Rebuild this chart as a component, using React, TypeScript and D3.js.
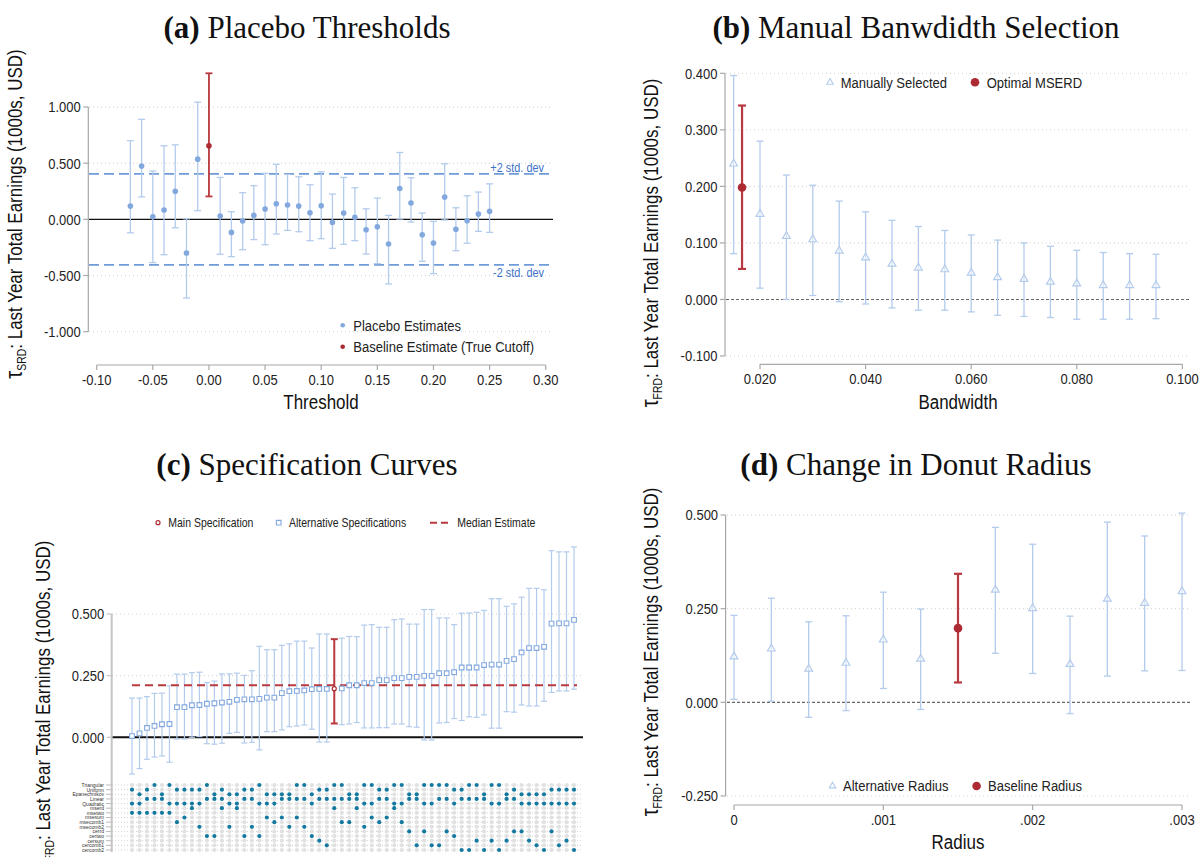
import React from 'react';
import * as d3 from 'd3';

// ---------------- Fonts & colours ----------------
const SANS = '"Liberation Sans",Arial,sans-serif';
const SERIF = '"Liberation Serif","Times New Roman",serif';
const NARROW_X = 0.84; // horizontal condensing to mimic Arial Narrow
const CI_BLUE = '#b3cbec';
const DOT_BLUE = '#82a8dd';
const RED = '#ad2a33';
const RED_CI = '#b8393f';
const TEAL = '#15799f';
const AXIS_GRAY = '#a8a8a8';
const GRID = '#cfcfcf';

// ---------------- Panel (a) Placebo thresholds ----------------
const placeboThreshold = [-0.07, -0.06, -0.05, -0.04, -0.03, -0.02, -0.01, 0.01, 0.02, 0.03, 0.04, 0.05, 0.06, 0.07, 0.08, 0.09, 0.10, 0.11, 0.12, 0.13, 0.14, 0.15, 0.16, 0.17, 0.18, 0.19, 0.20, 0.21, 0.22, 0.23, 0.24, 0.25];
const placeboEstimate = [0.118, 0.474, 0.023, 0.083, 0.249, -0.30, 0.536, 0.029, -0.116, -0.015, 0.035, 0.092, 0.139, 0.128, 0.118, 0.059, 0.121, -0.027, 0.056, 0.018, -0.092, -0.066, -0.22, 0.275, 0.145, -0.137, -0.211, 0.198, -0.089, -0.012, 0.047, 0.071];
const placeboUpper = [0.70, 0.89, 0.43, 0.655, 0.663, 0.005, 1.043, 0.373, 0.068, 0.237, 0.30, 0.41, 0.49, 0.40, 0.379, 0.308, 0.423, 0.225, 0.373, 0.281, 0.094, 0.189, 0.035, 0.595, 0.37, 0.056, -0.018, 0.494, 0.103, 0.21, 0.243, 0.316];
const placeboLower = [-0.12, 0.20, -0.385, -0.315, -0.075, -0.70, 0.077, -0.311, -0.332, -0.27, -0.18, -0.226, -0.13, -0.098, -0.11, -0.19, -0.172, -0.258, -0.222, -0.19, -0.308, -0.394, -0.575, 0.003, -0.024, -0.373, -0.483, -0.006, -0.279, -0.213, -0.107, -0.116];
const trueCutoff = [0];
const trueEstimate = [0.654];
const trueUpper = [1.30];
const trueLower = [0.204];
const stdDevBands = [0.405, -0.405];
const stdDevLabels = ['+2 std. dev', '-2 std. dev'];
const aXTicks = [-0.1, -0.05, 0, 0.05, 0.1, 0.15, 0.2, 0.25, 0.3];
const aYTicks = [1, 0.5, 0, -0.5, -1];

// ---------------- Panel (b) Bandwidth ----------------
const bandwidth = [0.015, 0.020, 0.025, 0.030, 0.035, 0.040, 0.045, 0.050, 0.055, 0.060, 0.065, 0.070, 0.075, 0.080, 0.085, 0.090, 0.095];
const bwEstimate = [0.240, 0.151, 0.112, 0.106, 0.086, 0.074, 0.063, 0.056, 0.053, 0.047, 0.039, 0.036, 0.031, 0.028, 0.025, 0.025, 0.025];
const bwUpper = [0.396, 0.280, 0.220, 0.202, 0.174, 0.155, 0.140, 0.129, 0.122, 0.114, 0.105, 0.100, 0.094, 0.087, 0.083, 0.081, 0.080];
const bwLower = [0.081, 0.020, 0.000, 0.007, -0.004, -0.008, -0.015, -0.019, -0.019, -0.022, -0.028, -0.030, -0.032, -0.035, -0.035, -0.035, -0.034];
const optimalBw = [0.0166];
const optimalEstimate = [0.198];
const optimalUpper = [0.343];
const optimalLower = [0.054];
const bXTicks = [0.02, 0.04, 0.06, 0.08, 0.1];
const bYTicks = [0.4, 0.3, 0.2, 0.1, 0, -0.1];

// ---------------- Panel (c) Specification curve ----------------
const specEstimate = [0.005, 0.016, 0.038, 0.046, 0.053, 0.054, 0.122, 0.122, 0.130, 0.131, 0.136, 0.138, 0.141, 0.144, 0.152, 0.154, 0.154, 0.156, 0.161, 0.161, 0.179, 0.187, 0.188, 0.190, 0.195, 0.196, 0.196, 0.197, 0.198, 0.211, 0.211, 0.220, 0.220, 0.232, 0.232, 0.240, 0.240, 0.245, 0.245, 0.249, 0.249, 0.260, 0.260, 0.264, 0.283, 0.283, 0.283, 0.293, 0.295, 0.295, 0.310, 0.317, 0.344, 0.362, 0.362, 0.367, 0.461, 0.462, 0.462, 0.476];
const specUpper = [0.159, 0.159, 0.165, 0.178, 0.179, 0.209, 0.256, 0.256, 0.262, 0.264, 0.222, 0.228, 0.257, 0.257, 0.260, 0.251, 0.270, 0.369, 0.355, 0.355, 0.373, 0.379, 0.390, 0.390, 0.362, 0.419, 0.419, 0.398, 0.402, 0.409, 0.408, 0.455, 0.457, 0.446, 0.446, 0.477, 0.480, 0.459, 0.459, 0.518, 0.518, 0.484, 0.484, 0.457, 0.503, 0.504, 0.507, 0.515, 0.562, 0.562, 0.531, 0.541, 0.568, 0.604, 0.604, 0.598, 0.757, 0.752, 0.752, 0.772];
const specLower = [-0.149, -0.127, -0.089, -0.080, -0.076, -0.101, -0.007, -0.007, 0.000, 0.003, -0.026, -0.028, -0.024, 0.016, 0.020, -0.023, -0.020, -0.051, 0.023, 0.023, 0.030, 0.043, 0.046, 0.050, 0.033, -0.019, -0.019, 0.056, 0.051, 0.054, 0.060, 0.038, 0.038, 0.039, 0.039, 0.054, 0.054, 0.043, 0.041, -0.011, -0.011, 0.058, 0.060, 0.076, 0.068, 0.083, 0.081, 0.091, 0.037, 0.037, 0.104, 0.102, 0.131, 0.127, 0.127, 0.146, 0.182, 0.188, 0.188, 0.195];
const specKernel = ['Uniform', 'Epanechnikov', 'Uniform', 'Triangular', 'Epanechnikov', 'Triangular', 'Uniform', 'Uniform', 'Uniform', 'Uniform', 'Triangular', 'Epanechnikov', 'Uniform', 'Epanechnikov', 'Epanechnikov', 'Uniform', 'Uniform', 'Triangular', 'Epanechnikov', 'Epanechnikov', 'Epanechnikov', 'Epanechnikov', 'Triangular', 'Triangular', 'Epanechnikov', 'Uniform', 'Uniform', 'Triangular', 'Triangular', 'Epanechnikov', 'Epanechnikov', 'Triangular', 'Triangular', 'Uniform', 'Uniform', 'Triangular', 'Triangular', 'Epanechnikov', 'Epanechnikov', 'Triangular', 'Triangular', 'Triangular', 'Triangular', 'Uniform', 'Uniform', 'Triangular', 'Triangular', 'Epanechnikov', 'Triangular', 'Triangular', 'Epanechnikov', 'Uniform', 'Epanechnikov', 'Epanechnikov', 'Epanechnikov', 'Epanechnikov', 'Uniform', 'Uniform', 'Uniform', 'Uniform'];
const specPoly = ['Quadratic', 'Quadratic', 'Linear', 'Linear', 'Linear', 'Quadratic', 'Quadratic', 'Quadratic', 'Quadratic', 'Quadratic', 'Linear', 'Linear', 'Linear', 'Quadratic', 'Quadratic', 'Linear', 'Linear', 'Quadratic', 'Quadratic', 'Quadratic', 'Linear', 'Linear', 'Linear', 'Linear', 'Quadratic', 'Linear', 'Linear', 'Linear', 'Linear', 'Linear', 'Linear', 'Quadratic', 'Quadratic', 'Linear', 'Linear', 'Quadratic', 'Quadratic', 'Linear', 'Linear', 'Quadratic', 'Quadratic', 'Linear', 'Linear', 'Quadratic', 'Linear', 'Linear', 'Linear', 'Linear', 'Quadratic', 'Quadratic', 'Linear', 'Linear', 'Quadratic', 'Quadratic', 'Quadratic', 'Quadratic', 'Quadratic', 'Quadratic', 'Quadratic', 'Quadratic'];
const specSelector = ['msetwo', 'msetwo', 'msetwo', 'msetwo', 'msetwo', 'msetwo', 'msecomb1', 'msesum', 'mserd', 'msecomb2', 'certwo', 'certwo', 'mserd', 'msecomb2', 'mserd', 'certwo', 'msecomb2', 'certwo', 'msesum', 'msecomb1', 'msesum', 'msecomb2', 'msesum', 'msecomb2', 'certwo', 'cersum', 'cercomb1', 'mserd', 'msecomb1', 'msecomb1', 'mserd', 'msecomb2', 'msesum', 'msecomb1', 'msesum', 'mserd', 'msecomb1', 'cerrd', 'cercomb1', 'cerrd', 'cercomb1', 'cercomb1', 'cerrd', 'certwo', 'cercomb2', 'cercomb2', 'cersum', 'cercomb2', 'cersum', 'cercomb2', 'cersum', 'cerrd', 'cerrd', 'cersum', 'cercomb1', 'cercomb2', 'cerrd', 'cercomb1', 'cersum', 'cercomb2'];
const mainSpecIndex = [27];
const medianEstimate = [0.211];
const specRows = ['Triangular', 'Uniform', 'Epanechnikov', 'Linear', 'Quadratic', 'mserd', 'msetwo', 'msesum', 'msecomb1', 'msecomb2', 'cerrd', 'certwo', 'cersum', 'cercomb1', 'cercomb2'];
const cYTicks = [0.5, 0.25, 0];

// ---------------- Panel (d) Donut radius ----------------
const radius = [0, 0.00025, 0.0005, 0.00075, 0.001, 0.00125, 0.00175, 0.002, 0.00225, 0.0025, 0.00275, 0.003];
const radiusEstimate = [0.122, 0.143, 0.089, 0.105, 0.167, 0.116, 0.300, 0.251, 0.102, 0.276, 0.265, 0.296];
const radiusUpper = [0.232, 0.278, 0.215, 0.231, 0.294, 0.249, 0.467, 0.422, 0.230, 0.481, 0.444, 0.505];
const radiusLower = [0.008, 0.003, -0.040, -0.022, 0.037, -0.019, 0.131, 0.077, -0.030, 0.070, 0.084, 0.085];
const baselineRadius = [0.0015];
const baselineEstimate = [0.198];
const baselineUpper = [0.343];
const baselineLower = [0.053];
const dXTicks = [0, 0.001, 0.002, 0.003];
const dYTicks = [0.5, 0.25, 0, -0.25];

// ---------------- helpers ----------------
const fmt = (spec: string) => (v: number) => d3.format(spec)(v).replace('\u2212', '-');
const radiusFmt = (v: number) => (v === 0 ? '0' : d3.format('.3f')(v).replace(/^0/, ''));

type Scale = d3.ScaleLinear<number, number>;

function T({ x, y, size, anchor = 'start', fill = '#222', sx = NARROW_X, dy = '0.35em', children }: { x: number; y: number; size: number; anchor?: string; fill?: string; sx?: number; dy?: string; children: React.ReactNode }) {
  return (
    <text transform={`translate(${x},${y}) scale(${sx},1)`} dy={dy} textAnchor={anchor as any} fontSize={size} fontFamily={SANS} fill={fill}>
      {children}
    </text>
  );
}

function YAxis({ x, y, ticks, format, color = AXIS_GRAY, width = 1.2, extendTo }: { x: number; y: Scale; ticks: number[]; format: (v: number) => string; color?: string; width?: number; extendTo?: number }) {
  const ys = ticks.map((t) => y(t));
  const top = Math.min(...ys);
  const bottom = extendTo ?? Math.max(...ys);
  return (
    <g>
      <line x1={x} x2={x} y1={top} y2={bottom} stroke={color} strokeWidth={width} />
      {ticks.map((t) => (
        <g key={t}>
          <line x1={x - 5} x2={x} y1={y(t)} y2={y(t)} stroke={color} strokeWidth={1.2} />
          <T x={x - 7.5} y={y(t)} size={15.5} anchor="end">{format(t)}</T>
        </g>
      ))}
    </g>
  );
}

function XAxis({ y0, x, ticks, format }: { y0: number; x: Scale; ticks: number[]; format: (v: number) => string }) {
  const xs = ticks.map((t) => x(t));
  return (
    <g>
      <line x1={Math.min(...xs)} x2={Math.max(...xs)} y1={y0} y2={y0} stroke={AXIS_GRAY} strokeWidth={1.2} />
      {ticks.map((t) => (
        <g key={t}>
          <line x1={x(t)} x2={x(t)} y1={y0} y2={y0 + 5} stroke={AXIS_GRAY} strokeWidth={1.2} />
          <T x={x(t)} y={y0 + 19.5} size={15.5} anchor="middle" dy="0">{format(t)}</T>
        </g>
      ))}
    </g>
  );
}

function ErrorBar({ x, y1, y2, color, width = 1.3, cap = 3.5 }: { x: number; y1: number; y2: number; color: string; width?: number; cap?: number }) {
  return (
    <g>
      <line x1={x} x2={x} y1={y1} y2={y2} stroke={color} strokeWidth={width} />
      <line x1={x - cap} x2={x + cap} y1={y1} y2={y1} stroke={color} strokeWidth={width} />
      <line x1={x - cap} x2={x + cap} y1={y2} y2={y2} stroke={color} strokeWidth={width} />
    </g>
  );
}

function Title({ x, y, tag, text }: { x: number; y: number; tag: string; text: string }) {
  return (
    <text x={x} y={y} textAnchor="middle" fontSize={31} fontFamily={SERIF} fill="#111">
      <tspan fontWeight="bold">{tag}</tspan>
      <tspan>{' ' + text}</tspan>
    </text>
  );
}

function YTitle({ x, y, sub }: { x: number; y: number; sub: string }) {
  return (
    <text transform={`translate(${x},${y}) rotate(-90) scale(0.87,1)`} textAnchor="middle" fontSize={19.5} fontFamily={SANS} fill="#111">
      <tspan fontSize={23}>τ</tspan>
      <tspan fontSize={12} dy={4}>{sub}</tspan>
      <tspan dy={-4}>: Last Year Total Earnings (1000s, USD)</tspan>
    </text>
  );
}

function XTitle({ x, y, text }: { x: number; y: number; text: string }) {
  return <T x={x} y={y} size={19.5} anchor="middle" dy="0" fill="#111" sx={0.87}>{text}</T>;
}

const triPath = d3.symbol(d3.symbolTriangle, 26)() as string;
const sqPath = d3.symbol(d3.symbolSquare, 22)() as string;

// ---------------- Panels ----------------
function PanelA() {
  const x = d3.scaleLinear().domain([-0.1, 0.3]).range([96.7, 545.7]);
  const y = d3.scaleLinear().domain([-1, 1]).range([331.7, 107]);
  const gx0 = 89, gx1 = 553;
  return (
    <g>
      <Title x={307} y={38} tag="(a)" text="Placebo Thresholds" />
      {aYTicks.filter((t) => t !== 0).map((t) => (
        <line key={t} x1={gx0} x2={gx1} y1={y(t)} y2={y(t)} stroke={GRID} strokeWidth={1} strokeDasharray="1,3" />
      ))}
      <line x1={gx0} x2={gx1} y1={y(0)} y2={y(0)} stroke="#111" strokeWidth={1.3} />
      {stdDevBands.map((b, i) => (
        <g key={b}>
          <line x1={gx0} x2={gx1} y1={y(b)} y2={y(b)} stroke="#6f9bd9" strokeWidth={1.6} strokeDasharray="10,5" />
          <T x={544} y={i === 0 ? y(b) - 2 : y(b) + 12.5} size={13} anchor="end" dy="0" fill="#3d72c9">{stdDevLabels[i]}</T>
        </g>
      ))}
      {placeboThreshold.map((t, i) => (
        <g key={t}>
          <ErrorBar x={x(t)} y1={y(placeboUpper[i])} y2={y(placeboLower[i])} color={CI_BLUE} />
          <circle cx={x(t)} cy={y(placeboEstimate[i])} r={2.8} fill={DOT_BLUE} />
        </g>
      ))}
      {trueCutoff.map((t, i) => (
        <g key={t}>
          <ErrorBar x={x(t)} y1={y(trueUpper[i])} y2={y(trueLower[i])} color={RED_CI} width={1.8} />
          <circle cx={x(t)} cy={y(trueEstimate[i])} r={2.8} fill={RED} />
        </g>
      ))}
      <YAxis x={88.3} y={y} ticks={aYTicks} format={fmt('.3f')} />
      <XAxis y0={365} x={x} ticks={aXTicks} format={fmt('.2f')} />
      <YTitle x={22} y={214} sub="SRD" />
      <XTitle x={321} y={409} text="Threshold" />
      <circle cx={342.7} cy={325.3} r={2.3} fill={DOT_BLUE} />
      <T x={353.3} y={325.3} size={15.5}>Placebo Estimates</T>
      <circle cx={342.7} cy={346.7} r={2.3} fill={RED} />
      <T x={353.3} y={346.7} size={15.5}>Baseline Estimate (True Cutoff)</T>
    </g>
  );
}

function PanelB() {
  const x = d3.scaleLinear().domain([0.02, 0.1]).range([760, 1182.4]);
  const y = d3.scaleLinear().domain([-0.1, 0.4]).range([356, 73.3]);
  const gx0 = 726, gx1 = 1190;
  return (
    <g>
      <Title x={916} y={38} tag="(b)" text="Manual Banwdidth Selection" />
      {bYTicks.filter((t) => t !== 0).map((t) => (
        <line key={t} x1={gx0} x2={gx1} y1={y(t)} y2={y(t)} stroke={GRID} strokeWidth={1} strokeDasharray="1,3" />
      ))}
      <line x1={gx0} x2={gx1} y1={y(0)} y2={y(0)} stroke="#666" strokeWidth={1.1} strokeDasharray="3,2" />
      {bandwidth.map((b, i) => (
        <g key={b}>
          <ErrorBar x={x(b)} y1={y(bwUpper[i])} y2={y(bwLower[i])} color={CI_BLUE} />
          <path d={triPath} transform={`translate(${x(b)},${y(bwEstimate[i])})`} fill="white" fillOpacity={0.5} stroke={CI_BLUE} strokeWidth={1.2} />
        </g>
      ))}
      {optimalBw.map((b, i) => (
        <g key={b}>
          <ErrorBar x={x(b)} y1={y(optimalUpper[i])} y2={y(optimalLower[i])} color={RED_CI} width={2.2} cap={4} />
          <circle cx={x(b)} cy={y(optimalEstimate[i])} r={4.3} fill={RED} />
        </g>
      ))}
      <YAxis x={725} y={y} ticks={bYTicks} format={fmt('.3f')} />
      <XAxis y0={364.3} x={x} ticks={bXTicks} format={fmt('.3f')} />
      <YTitle x={658} y={243} sub="FRD" />
      <XTitle x={958} y={409} text="Bandwidth" />
      <path d={triPath} transform="translate(830,82.3) scale(0.85)" fill="white" stroke={CI_BLUE} strokeWidth={1.3} />
      <T x={840.7} y={82.3} size={15.5}>Manually Selected</T>
      <circle cx={975} cy={82.3} r={4.3} fill={RED} />
      <T x={986.7} y={82.3} size={15.5}>Optimal MSERD</T>
    </g>
  );
}

function PanelC() {
  const x = d3.scaleLinear().domain([0, specEstimate.length - 1]).range([132, 574]);
  const y = d3.scaleLinear().domain([0, 0.5]).range([737.3, 614]);
  const row = d3.scaleLinear().domain([0, specRows.length - 1]).range([785, 850]);
  const gx0 = 112, gx1 = 583;
  return (
    <g>
      <Title x={307} y={475} tag="(c)" text="Specification Curves" />
      {/* legend */}
      <circle cx={158} cy={522.7} r={2} fill="none" stroke={RED} strokeWidth={1.2} />
      <T x={168.3} y={522.7} size={12.5}>Main Specification</T>
      <path d={sqPath} transform="translate(278.7,522.7)" fill="none" stroke={DOT_BLUE} strokeWidth={1.1} />
      <T x={289} y={522.7} size={12.5}>Alternative Specifications</T>
      <line x1={430} x2={450} y1={522.7} y2={522.7} stroke={RED_CI} strokeWidth={2} strokeDasharray="7,4" />
      <T x={457.3} y={522.7} size={12.5}>Median Estimate</T>

      {cYTicks.filter((t) => t !== 0).map((t) => (
        <line key={t} x1={gx0} x2={gx1} y1={y(t)} y2={y(t)} stroke={GRID} strokeWidth={1} strokeDasharray="1,3" />
      ))}
      <line x1={gx0} x2={gx1} y1={y(0)} y2={y(0)} stroke="#111" strokeWidth={2} />
      {specEstimate.map((v, i) => (i === mainSpecIndex[0] ? null : (
        <ErrorBar key={i} x={x(i)} y1={y(specUpper[i])} y2={y(specLower[i])} color={CI_BLUE} width={1.2} cap={3} />
      )))}
      {medianEstimate.map((m) => (
        <line key={m} x1={132} x2={577} y1={y(m)} y2={y(m)} stroke={RED_CI} strokeWidth={2} strokeDasharray="8,5" />
      ))}
      {specEstimate.map((v, i) => (i === mainSpecIndex[0] ? null : (
        <path key={i} d={sqPath} transform={`translate(${x(i)},${y(v)})`} fill="white" stroke={DOT_BLUE} strokeWidth={1.1} />
      )))}
      {mainSpecIndex.map((i) => (
        <g key={i}>
          <ErrorBar x={x(i)} y1={y(specUpper[i])} y2={y(specLower[i])} color={RED_CI} width={2} cap={3.5} />
          <circle cx={x(i)} cy={y(specEstimate[i])} r={2} fill="white" stroke={RED} strokeWidth={1.2} />
        </g>
      ))}
      {/* indicator matrix */}
      {specRows.map((r, ri) => (
        <g key={r}>
          <line x1={gx0} x2={gx1} y1={row(ri)} y2={row(ri)} stroke="#c8c8c8" strokeWidth={0.8} strokeDasharray="1,2" />
          <line x1={106} x2={111} y1={row(ri)} y2={row(ri)} stroke={AXIS_GRAY} strokeWidth={0.8} />
          <T x={104} y={row(ri)} size={5.6} anchor="end" fill="#333" sx={0.9}>{r}</T>
          {specEstimate.map((_, i) => {
            const on = specKernel[i] === r || specPoly[i] === r || specSelector[i] === r;
            return <circle key={i} cx={x(i)} cy={row(ri)} r={2.1} fill={on ? TEAL : '#e1e1e1'} />;
          })}
        </g>
      ))}
      <YAxis x={111.7} y={y} ticks={cYTicks} format={fmt('.3f')} color="#c4c4c4" width={2} extendTo={852} />
      <YTitle x={50} y={705} sub="FRD" />
    </g>
  );
}

function PanelD() {
  const x = d3.scaleLinear().domain([0, 0.003]).range([734, 1182]);
  const y = d3.scaleLinear().domain([-0.25, 0.5]).range([796, 515]);
  const gx0 = 727, gx1 = 1190;
  return (
    <g>
      <Title x={916} y={475} tag="(d)" text="Change in Donut Radius" />
      {dYTicks.filter((t) => t !== 0).map((t) => (
        <line key={t} x1={gx0} x2={gx1} y1={y(t)} y2={y(t)} stroke={GRID} strokeWidth={1} strokeDasharray="1,3" />
      ))}
      <line x1={gx0} x2={gx1} y1={y(0)} y2={y(0)} stroke="#666" strokeWidth={1.1} strokeDasharray="3,2" />
      {radius.map((r, i) => (
        <g key={r}>
          <ErrorBar x={x(r)} y1={y(radiusUpper[i])} y2={y(radiusLower[i])} color={CI_BLUE} />
          <path d={triPath} transform={`translate(${x(r)},${y(radiusEstimate[i])})`} fill="white" fillOpacity={0.5} stroke={CI_BLUE} strokeWidth={1.2} />
        </g>
      ))}
      {baselineRadius.map((r, i) => (
        <g key={r}>
          <ErrorBar x={x(r)} y1={y(baselineUpper[i])} y2={y(baselineLower[i])} color={RED_CI} width={2.2} cap={4} />
          <circle cx={x(r)} cy={y(baselineEstimate[i])} r={4.3} fill={RED} />
        </g>
      ))}
      <YAxis x={725.6} y={y} ticks={dYTicks} format={fmt('.3f')} />
      <XAxis y0={805} x={x} ticks={dXTicks} format={radiusFmt} />
      <YTitle x={658} y={652} sub="FRD" />
      <XTitle x={958} y={849} text="Radius" />
      <path d={triPath} transform="translate(832.6,786) scale(0.85)" fill="white" stroke={CI_BLUE} strokeWidth={1.3} />
      <T x={843} y={786} size={15.5}>Alternative Radius</T>
      <circle cx={976.6} cy={786} r={4.3} fill={RED} />
      <T x={988} y={786} size={15.5}>Baseline Radius</T>
    </g>
  );
}

export default function App() {
  return (
    <div>
      <style>{'body{margin:0;background:#fff}'}</style>
      <svg width={1200} height={857} viewBox="0 0 1200 857" style={{ display: 'block' }}>
        <rect width={1200} height={857} fill="#fff" />
        <PanelA />
        <PanelB />
        <PanelC />
        <PanelD />
      </svg>
    </div>
  );
}
